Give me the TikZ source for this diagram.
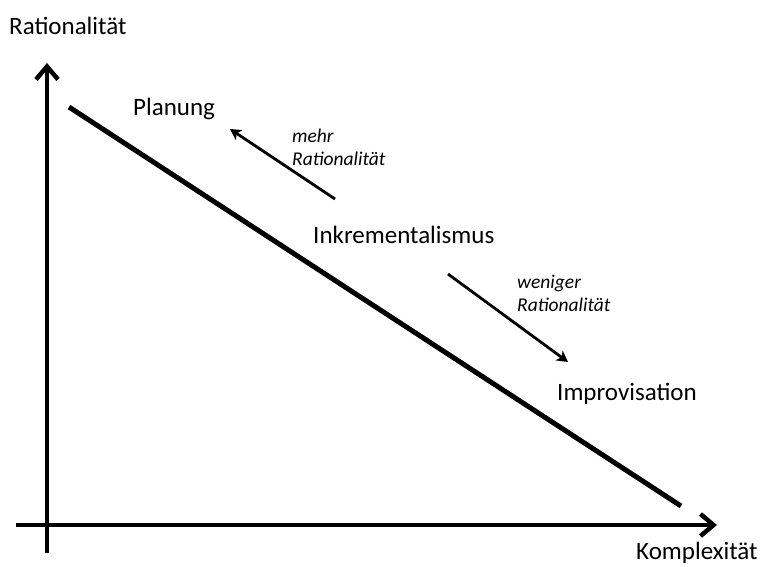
\documentclass[tikz,border=0pt]{standalone}
\usepackage{fontspec}
\setmainfont{Carlito}
\usetikzlibrary{arrows.meta}
\begin{document}
\begin{tikzpicture}[x=1pt,y=-1pt,
  axis/.style={line width=4.5pt,-{Straight Barb[length=13pt,width=22pt,line width=4.5pt]}},
  diag/.style={line width=5pt},
  smallarrow/.style={line width=2.8pt,-{Stealth[length=11pt,width=12pt,inset=3pt]}},
  biglabel/.style={inner sep=0pt,anchor=base west,font=\fontsize{25}{30}\selectfont},
  itlabel/.style={inner sep=0pt,anchor=base west,font=\fontsize{19.5}{23}\selectfont\itshape}]
\useasboundingbox (0,0) rectangle (763,566);
\fill[white] (0,0) rectangle (763,566);
% axes
\coordinate (ybot) at (47,553);
\coordinate (ytip) at (47,63);
\coordinate (xleft) at (16,525);
\coordinate (xtip) at (717,525);
\draw[axis] (ybot) -- (ytip);
\draw[axis] (xleft) -- (xtip);
% diagonal
\coordinate (d1) at (69,107);
\coordinate (d2) at (681,506);
\draw[diag] (d1) -- (d2);
% labels
\node[biglabel] (ylab) at (9,34) {Rationalität};
\node[biglabel] (xlab) at (636,559) {Komplexität};
\node[biglabel] (plan) at (133,115) {Planung};
\node[biglabel] (inkr) at (313,243) {Inkrementalismus};
\node[biglabel] (impr) at (557,400) {Improvisation};
\node[itlabel] (mehr1) at (292,142) {mehr};
\node[itlabel] (mehr2) at (292,165) {Rationalität};
\node[itlabel] (wen1) at (517,288) {weniger};
\node[itlabel] (wen2) at (517,311) {Rationalität};
% small arrows
\coordinate (m1) at (335,199);
\coordinate (m2) at (230,129);
\coordinate (w1) at (448,274);
\coordinate (w2) at (568,362);
\draw[smallarrow] (m1) -- (m2);
\draw[smallarrow] (w1) -- (w2);
\end{tikzpicture}
\end{document}
